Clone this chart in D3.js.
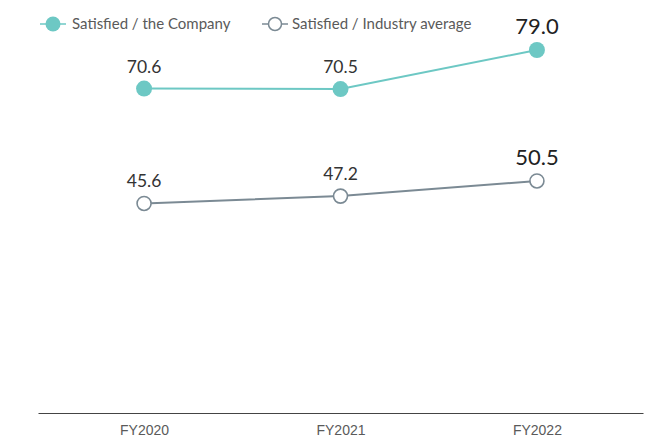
<!DOCTYPE html>
<html lang="en">
<head>
    <meta charset="UTF-8">
    <title>Customer Satisfaction</title>
    <style>
        body { margin: 0; background: #fff; }
        svg { font-family: 'Lato', 'Noto Sans', sans-serif; }
        .legend text { font-size: 15px; fill: #5a5a5a; }
        .tick text { font-size: 14px; fill: #5a5a5a; }
        .value { font-size: 17.5px; fill: #333; text-anchor: middle; }
        .value.last { font-size: 22px; fill: #222; }
    </style>
</head>
<body>
    <svg id="chart" width="652" height="438"></svg>

    <script src="https://d3js.org/d3.v7.min.js"></script>
    <script>
        // Data
        const years = ["FY2020", "FY2021", "FY2022"];
        const company = [70.6, 70.5, 79.0];
        const industry = [45.6, 47.2, 50.5];

        const seriesNames = ["Satisfied / the Company", "Satisfied / Industry average"];
        const teal = "#6dc8c4";
        const grey = "#7b8a94";

        const svg = d3.select("#chart");

        // Scales
        const x = d3.scalePoint().domain(years).range([38, 643]).padding(0.54);
        const y = d3.scaleLinear().domain([0, 79]).range([413, 50]);

        // X axis
        const xAxis = svg.append("g")
            .attr("transform", "translate(0,413)")
            .call(d3.axisBottom(x).tickSize(0).tickPadding(10));
        xAxis.select(".domain").attr("stroke", "#444").attr("stroke-width", 1.2);
        xAxis.selectAll(".tick text").attr("dy", "0.85em");

        const line = d3.line()
            .x((d, i) => x(years[i]))
            .y(d => y(d));

        // Industry average series
        svg.append("path")
            .datum(industry)
            .attr("fill", "none")
            .attr("stroke", grey)
            .attr("stroke-width", 2)
            .attr("d", line);

        svg.selectAll(".ind-dot")
            .data(industry)
            .enter().append("circle")
            .attr("class", "ind-dot")
            .attr("cx", (d, i) => x(years[i]))
            .attr("cy", d => y(d))
            .attr("r", 7)
            .attr("fill", "#fff")
            .attr("stroke", grey)
            .attr("stroke-width", 1.6);

        // Company series
        svg.append("path")
            .datum(company)
            .attr("fill", "none")
            .attr("stroke", teal)
            .attr("stroke-width", 2)
            .attr("d", line);

        svg.selectAll(".co-dot")
            .data(company)
            .enter().append("circle")
            .attr("class", "co-dot")
            .attr("cx", (d, i) => x(years[i]))
            .attr("cy", d => y(d))
            .attr("r", 8)
            .attr("fill", teal);

        // Value labels
        [company, industry].forEach(function(vals) {
            svg.selectAll(null)
                .data(vals)
                .enter().append("text")
                .attr("class", (d, i) => i === vals.length - 1 ? "value last" : "value")
                .attr("x", (d, i) => x(years[i]))
                .attr("y", d => y(d) - 16)
                .text(d => d.toFixed(1));
        });

        // Legend
        const legend = svg.append("g").attr("class", "legend");

        const l1 = legend.append("g").attr("transform", "translate(53,24)");
        l1.append("line").attr("x1", -13).attr("x2", 13).attr("stroke", teal).attr("stroke-width", 1.5);
        l1.append("circle").attr("r", 7.5).attr("fill", teal);
        l1.append("text").attr("x", 19).attr("dy", "0.35em").text(seriesNames[0]);

        const l2 = legend.append("g").attr("transform", "translate(275,24)");
        l2.append("line").attr("x1", -13).attr("x2", 13).attr("stroke", grey).attr("stroke-width", 1.5);
        l2.append("circle").attr("r", 6.5).attr("fill", "#fff").attr("stroke", grey).attr("stroke-width", 1.5);
        l2.append("text").attr("x", 17).attr("dy", "0.35em").text(seriesNames[1]);
    </script>
</body>
</html>
